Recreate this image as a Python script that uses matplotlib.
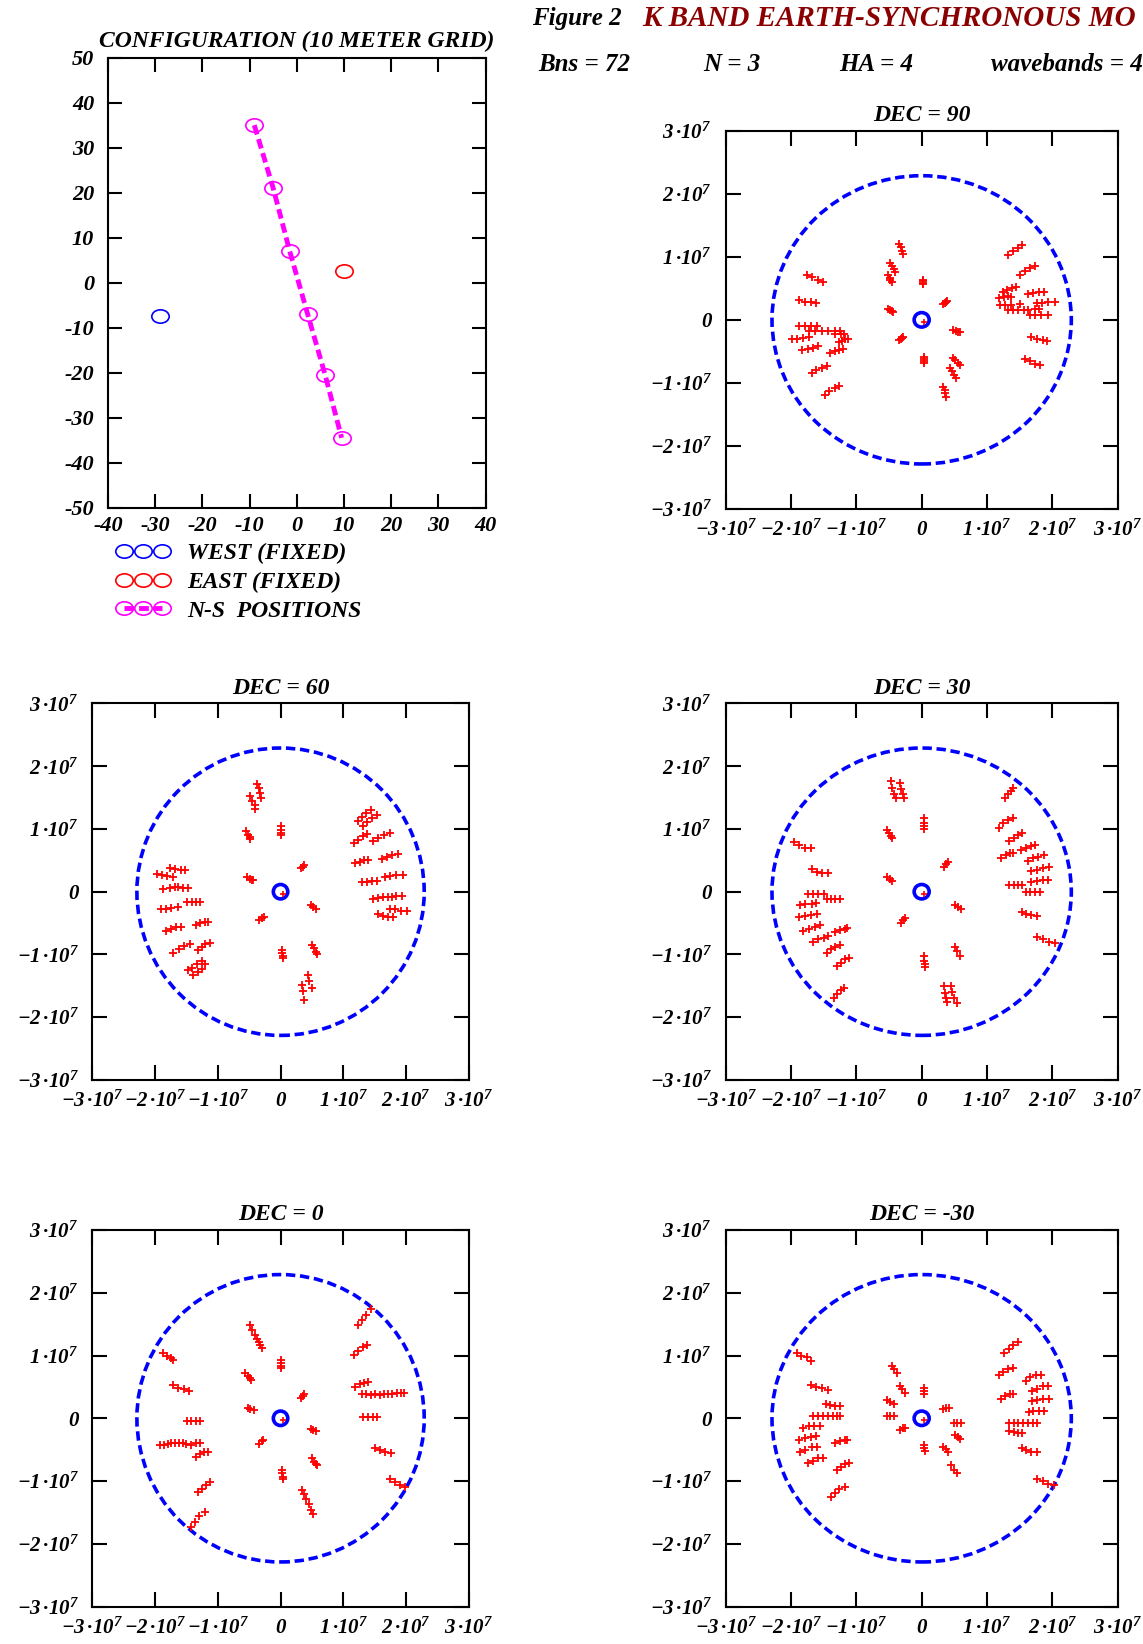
'''
K band earth-synchronous mode, figure 2
'''

import matplotlib
matplotlib.use('Agg')
import matplotlib.pyplot as plt
from matplotlib.patches import Circle
from matplotlib.lines import Line2D
from matplotlib.path import Path
from matplotlib.transforms import Affine2D

plt.rcParams['font.family'] = ['Liberation Serif', 'DejaVu Serif']
plt.rcParams['font.style'] = 'italic'
plt.rcParams['font.weight'] = 'bold'
plt.rcParams['axes.titleweight'] = 'bold'
plt.rcParams['mathtext.fontset'] = 'custom'
plt.rcParams['mathtext.rm'] = 'Liberation Serif:bold:italic'
plt.rcParams['mathtext.it'] = 'Liberation Serif:bold:italic'
plt.rcParams['mathtext.bf'] = 'Liberation Serif:bold:italic'
plt.rcParams['mathtext.default'] = 'bf'
plt.rcParams['axes.unicode_minus'] = False

# antenna positions (10 meter grid)
west_x = [-29]
west_y = [-7.5]
east_x = [10]
east_y = [2.5]
ns_x = [-9, -5, -1.5, 2.3, 6, 9.5]
ns_y = [35, 21, 7, -7, -20.5, -34.5]

config_xticks = [-40, -30, -20, -10, 0, 10, 20, 30, 40]
config_yticks = [-50, -40, -30, -20, -10, 0, 10, 20, 30, 40, 50]
legend_labels = ['WEST (FIXED)', 'EAST (FIXED)', 'N-S  POSITIONS']

header_title = 'K BAND EARTH-SYNCHRONOUS MO'
header_params = ['Bns = 72', 'N = 3', 'HA = 4', 'wavebands = 4']

# uv plane, ticks in units of 1e7
uv_ticks = [-3, -2, -1, 0, 1, 2, 3]
# radius of the dashed limit circle and of the centre ring, units of 1e6
limit_radius = 22.9
centre_radius = 1.15
centre_point = (0.4, -0.3)

# uv samples, units of 1e6 wavelengths
dec90_uv = [
    (-3.4, 12.1), (-3.2, 11.6), (-3.0, 11.0), (-2.8, 10.5),
    (-4.8, 9.0), (-4.6, 8.5), (-4.3, 8.0), (-4.1, 7.6),
    (-5.1, 7.1), (-4.9, 6.6), (-4.8, 6.3), (-4.6, 6.0),
    (0.2, 6.4), (0.2, 6.1), (0.2, 5.9), (0.2, 5.7),
    (-5.1, 1.8), (-4.8, 1.6), (-4.6, 1.4), (-4.4, 1.3),
    (3.3, 2.5), (3.5, 2.7), (3.7, 2.8), (3.9, 3.0),
    (4.8, -1.6), (5.2, -1.7), (5.5, -1.9), (5.9, -2.0),
    (-3.4, -3.2), (-3.2, -3.0), (-3.0, -2.9), (-2.8, -2.7),
    (0.35, -5.9), (0.35, -6.2), (0.4, -6.5), (0.4, -6.8),
    (4.8, -6.0), (5.1, -6.4), (5.5, -6.8), (5.8, -7.2),
    (4.4, -7.7), (4.7, -8.2), (5.0, -8.7), (5.2, -9.2),
    (3.3, -10.6), (3.5, -11.1), (3.6, -11.7), (3.8, -12.2),
    (-17.6, 7.2), (-16.8, 6.8), (-15.9, 6.4), (-15.1, 6.0),
    (-18.7, 3.1), (-17.8, 2.9), (-16.9, 2.8), (-16.1, 2.7),
    (-18.8, -0.9), (-17.9, -0.9), (-16.9, -0.9), (-16.0, -0.9),
    (-17.3, -1.8), (-16.3, -1.8), (-15.3, -1.7), (-14.3, -1.7),
    (-13.3, -1.7), (-12.5, -1.7),
    (-13.2, -2.3), (-12.4, -2.3), (-11.9, -2.2),
    (-19.8, -3.0), (-19.0, -3.0), (-18.2, -2.9), (-17.3, -2.7),
    (-12.7, -3.5), (-12.2, -3.3), (-11.7, -3.1), (-11.2, -3.0),
    (-18.3, -4.8), (-17.4, -4.6), (-16.6, -4.4), (-15.8, -4.2),
    (-14.0, -5.2), (-13.3, -5.0), (-12.6, -4.8), (-12.0, -4.6),
    (-16.8, -8.5), (-16.1, -8.0), (-15.3, -7.7), (-14.5, -7.4),
    (-14.8, -12.0), (-14.1, -11.3), (-13.3, -10.9), (-12.6, -10.5),
    (13.2, 10.3), (14.0, 10.9), (14.7, 11.4), (15.3, 11.9),
    (15.0, 7.2), (15.8, 7.8), (16.6, 8.2), (17.3, 8.5),
    (12.4, 4.5), (13.1, 4.8), (13.8, 5.0), (14.5, 5.2),
    (11.9, 3.4), (12.6, 3.6), (13.2, 3.8), (13.7, 3.7),
    (16.2, 4.1), (17.0, 4.3), (17.9, 4.4), (18.7, 4.5),
    (12.0, 2.3), (12.8, 2.3), (13.6, 2.4), (15.0, 2.5),
    (17.6, 2.6), (18.4, 2.7), (19.3, 2.8), (20.4, 2.9),
    (13.2, 1.5), (14.0, 1.5), (14.8, 1.6), (15.6, 1.6),
    (16.3, 1.6), (17.3, 1.7), (18.0, 1.8),
    (16.5, 0.8), (17.3, 0.8), (18.2, 0.7), (19.3, 0.7),
    (16.8, -2.8), (17.6, -3.0), (18.5, -3.2), (19.2, -3.4),
    (15.8, -6.2), (16.6, -6.6), (17.4, -7.0), (18.1, -7.2),
]

dec60_uv = [
    (-3.7, 17.1), (-3.4, 16.5), (-3.2, 15.7), (-3.1, 14.9),
    (-4.9, 15.2), (-4.5, 14.5), (-4.1, 13.8), (-4.0, 13.2),
    (-5.5, 9.6), (-5.2, 9.1), (-4.9, 8.7), (-4.8, 8.4),
    (0.0, 10.4), (0.0, 9.9), (0.1, 9.4), (0.1, 9.0),
    (-5.3, 2.4), (-4.9, 2.1), (-4.6, 1.9), (-4.4, 1.8),
    (3.2, 3.7), (3.5, 4.0), (3.8, 4.3),
    (4.8, -2.1), (5.2, -2.4), (5.7, -2.7),
    (-3.4, -4.5), (-3.0, -4.2), (-2.6, -4.0),
    (0.3, -9.3), (0.3, -9.8), (0.4, -10.2), (0.4, -10.6),
    (5.0, -8.5), (5.3, -9.0), (5.6, -9.6), (5.8, -10.0),
    (4.3, -13.2), (4.6, -14.2), (5.0, -15.4),
    (3.4, -14.9), (3.6, -15.9), (3.8, -17.3),
    (-17.6, 3.8), (-16.8, 3.6), (-15.9, 3.5), (-15.2, 3.4),
    (-19.7, 2.9), (-18.9, 2.7), (-18.1, 2.5), (-17.1, 2.4),
    (-18.7, 0.5), (-17.6, 0.6), (-16.9, 0.7), (-16.3, 0.7),
    (-15.6, 0.6), (-14.7, 0.6),
    (-14.9, -1.7), (-14.1, -1.6), (-13.4, -1.6), (-12.8, -1.6),
    (-19.1, -2.8), (-18.3, -2.7), (-17.4, -2.6), (-16.4, -2.5),
    (-13.5, -5.3), (-12.8, -5.0), (-12.1, -4.8), (-11.5, -4.8),
    (-18.3, -6.3), (-17.4, -5.9), (-16.6, -5.6), (-15.9, -5.6),
    (-13.2, -9.3), (-12.6, -8.8), (-12.0, -8.4), (-11.3, -8.1),
    (-17.1, -9.7), (-16.2, -9.2), (-15.4, -8.7), (-14.5, -8.4),
    (-14.8, -12.5), (-14.1, -12.1), (-13.3, -11.6), (-12.6, -11.0),
    (-13.9, -13.3), (-13.2, -12.8), (-12.6, -12.3), (-12.1, -11.6),
    (12.4, 11.2), (13.0, 11.9), (13.6, 12.5), (14.4, 13.0),
    (13.2, 10.5), (13.8, 11.1), (14.6, 11.8), (15.4, 12.3),
    (11.7, 7.8), (12.4, 8.3), (13.1, 8.9), (13.8, 9.2),
    (14.8, 8.1), (15.6, 8.6), (16.5, 9.0), (17.5, 9.3),
    (11.9, 4.5), (12.6, 4.8), (13.3, 5.0), (14.0, 5.1),
    (16.2, 5.2), (17.0, 5.6), (17.8, 5.9), (18.7, 6.0),
    (13.0, 1.5), (13.8, 1.6), (14.6, 1.7), (15.4, 1.7),
    (16.7, 2.4), (17.5, 2.5), (18.4, 2.6), (19.5, 2.7),
    (14.8, -1.1), (15.6, -1.0), (16.4, -0.9), (17.1, -0.8),
    (17.7, -0.8), (18.4, -0.7), (19.3, -0.7),
    (17.4, -2.7), (18.2, -2.8), (19.2, -3.0), (20.1, -3.1),
    (15.6, -3.6), (16.4, -3.8), (17.2, -4.0), (17.9, -4.1),
]

dec30_uv = [
    (-4.7, 17.6), (-4.5, 16.5), (-4.2, 15.5), (-4.0, 14.9),
    (-3.3, 17.4), (-3.1, 16.4), (-2.9, 15.5), (-2.7, 14.9),
    (0.3, 11.7), (0.3, 11.0), (0.3, 10.4), (0.3, 10.0),
    (-5.3, 9.9), (-5.0, 9.4), (-4.7, 8.8), (-4.5, 8.5),
    (3.4, 4.0), (3.7, 4.4), (4.0, 4.8),
    (-5.3, 2.4), (-4.9, 2.0), (-4.5, 1.7),
    (5.1, -2.1), (5.5, -2.5), (6.0, -2.8),
    (-3.2, -5.0), (-2.9, -4.5), (-2.6, -4.2),
    (0.4, -10.3), (0.4, -11.0), (0.5, -11.6), (0.5, -12.0),
    (5.1, -8.8), (5.4, -9.5), (5.8, -10.2),
    (3.4, -15.1), (3.6, -16.2), (3.8, -17.0), (3.9, -17.6),
    (4.5, -15.1), (4.7, -16.0), (5.0, -16.9), (5.4, -17.8),
    (-19.6, 8.0), (-18.7, 7.4), (-17.9, 7.0), (-17.0, 6.9),
    (-16.8, 3.6), (-16.0, 3.2), (-15.2, 3.0), (-14.4, 3.0),
    (-17.4, -0.3), (-16.6, -0.3), (-15.8, -0.3), (-15.0, -0.3),
    (-14.5, -1.2), (-13.8, -1.2), (-13.2, -1.2), (-12.5, -1.2),
    (-18.6, -2.1), (-17.9, -2.0), (-16.8, -1.9), (-16.1, -1.8),
    (-18.8, -4.1), (-17.9, -3.9), (-17.0, -3.7), (-16.0, -3.6),
    (-18.1, -6.3), (-17.3, -5.9), (-16.3, -5.6), (-15.6, -5.3),
    (-13.2, -6.4), (-12.5, -6.1), (-11.8, -5.9), (-11.4, -5.8),
    (-16.6, -8.0), (-15.8, -7.6), (-15.0, -7.3), (-14.4, -7.0),
    (-14.5, -9.7), (-13.8, -9.2), (-13.2, -8.8), (-12.5, -8.5),
    (-13.0, -11.9), (-12.4, -11.3), (-11.7, -10.8), (-11.1, -10.5),
    (-13.4, -16.9), (-12.9, -16.3), (-12.4, -15.7), (-11.9, -15.3),
    (12.7, 15.0), (13.2, 15.5), (13.7, 16.0), (14.0, 16.6),
    (11.8, 10.2), (12.5, 10.9), (13.2, 11.4), (13.9, 11.8),
    (13.4, 8.1), (14.1, 8.6), (14.8, 9.0), (15.4, 9.4),
    (12.2, 5.4), (12.9, 5.8), (13.5, 6.1), (14.0, 6.2),
    (15.2, 6.6), (15.9, 7.0), (16.7, 7.3), (17.4, 7.5),
    (16.3, 4.9), (17.0, 5.3), (17.8, 5.6), (18.7, 5.9),
    (16.8, 3.3), (17.6, 3.5), (18.6, 3.7), (19.5, 3.9),
    (16.8, 1.6), (17.6, 1.7), (18.5, 1.8), (19.3, 1.9),
    (13.4, 1.0), (14.1, 1.0), (14.8, 1.0), (15.4, 1.0),
    (15.9, 0.0), (16.6, 0.0), (17.4, 0.0), (18.1, 0.0),
    (15.3, -3.3), (16.0, -3.5), (16.8, -3.7), (17.7, -3.8),
    (17.7, -7.2), (18.5, -7.6), (19.5, -8.0), (20.4, -8.2),
]

dec0_uv = [
    (-4.9, 14.9), (-4.5, 14.1), (-4.1, 13.3), (-3.7, 12.7),
    (-3.4, 12.2), (-3.2, 11.7), (-2.9, 11.2),
    (0.0, 9.3), (0.0, 8.8), (0.1, 8.3), (0.1, 8.0),
    (-5.6, 7.2), (-5.2, 6.8), (-4.9, 6.4), (-4.7, 6.1),
    (-5.2, 1.7), (-4.8, 1.5), (-4.3, 1.3),
    (3.2, 3.2), (3.5, 3.5), (3.7, 3.8),
    (4.8, -1.7), (5.2, -1.9), (5.7, -2.0),
    (-3.4, -4.1), (-3.0, -3.7), (-2.8, -3.5),
    (0.3, -8.2), (0.3, -8.8), (0.4, -9.3), (0.4, -9.7),
    (5.0, -6.3), (5.3, -6.9), (5.6, -7.3), (5.8, -7.5),
    (3.4, -11.4), (3.8, -12.1), (4.1, -12.8), (4.5, -13.6),
    (4.9, -14.6), (5.2, -15.3),
    (-18.8, 10.4), (-18.1, 9.9), (-17.4, 9.6), (-17.2, 9.3),
    (-17.1, 5.3), (-16.3, 4.9), (-15.4, 4.6), (-14.6, 4.4),
    (-14.9, -0.4), (-14.2, -0.4), (-13.5, -0.4), (-12.8, -0.4),
    (-19.2, -4.3), (-18.6, -4.2), (-18.0, -4.1), (-17.4, -4.0),
    (-16.8, -4.0), (-16.2, -3.9), (-15.6, -4.0), (-15.0, -4.1),
    (-14.3, -4.2), (-13.5, -4.0), (-12.8, -3.9),
    (-13.5, -6.1), (-12.9, -5.7), (-12.2, -5.4), (-11.5, -5.3),
    (-13.2, -11.8), (-12.6, -11.2), (-11.9, -10.6), (-11.3, -10.2),
    (-14.2, -17.4), (-13.6, -16.5), (-13.0, -15.6), (-12.1, -15.0),
    (12.4, 14.8), (13.0, 15.7), (13.6, 16.5), (14.4, 17.4),
    (11.7, 10.1), (12.4, 10.8), (13.1, 11.3), (13.8, 11.6),
    (11.9, 5.0), (12.6, 5.4), (13.3, 5.7), (13.9, 5.8),
    (13.0, 3.8), (13.7, 3.8), (14.4, 3.7), (15.1, 3.8),
    (15.8, 3.7), (16.5, 3.8), (17.1, 3.9), (17.8, 3.9),
    (18.5, 4.0), (19.2, 4.1), (19.6, 4.1),
    (13.1, 0.2), (13.9, 0.2), (14.7, 0.2), (15.4, 0.2),
    (15.1, -4.7), (15.9, -5.0), (16.7, -5.3), (17.6, -5.6),
    (17.5, -9.6), (18.3, -10.2), (19.1, -10.6), (19.9, -10.9),
]

decm30_uv = [
    (-4.6, 8.4), (-4.3, 7.9), (-3.8, 7.2),
    (-3.3, 5.2), (-3.0, 4.7), (-2.6, 4.1),
    (0.3, 4.9), (0.3, 4.4), (0.4, 3.8),
    (-5.3, 2.9), (-4.9, 2.6), (-4.3, 2.2),
    (-5.3, 0.4), (-4.8, 0.4), (-4.2, 0.4),
    (3.3, 1.5), (3.8, 1.6), (4.2, 1.6),
    (4.9, -0.7), (5.4, -0.7), (6.0, -0.7),
    (-3.3, -1.9), (-2.9, -1.6), (-2.6, -1.6),
    (5.1, -2.6), (5.5, -3.0), (5.9, -3.3),
    (0.4, -4.3), (0.4, -4.8), (0.5, -5.2),
    (3.3, -4.5), (3.7, -4.9), (4.0, -5.3),
    (4.5, -7.5), (4.9, -8.2), (5.4, -8.8),
    (-19.0, 10.4), (-18.4, 10.0), (-17.6, 9.7), (-16.9, 9.1),
    (-17.0, 5.3), (-16.2, 5.0), (-15.3, 4.8), (-14.4, 4.5),
    (-14.7, 2.2), (-14.0, 2.1), (-13.3, 1.9), (-12.5, 1.9),
    (-16.7, 0.4), (-15.9, 0.4), (-15.1, 0.4), (-14.3, 0.4),
    (-13.6, 0.4), (-12.9, 0.4), (-12.5, 0.4),
    (-18.1, -1.5), (-17.3, -1.3), (-16.4, -1.2), (-15.6, -1.2),
    (-18.8, -3.5), (-17.9, -3.2), (-17.0, -3.0), (-16.1, -2.9),
    (-18.6, -5.3), (-17.8, -5.0), (-16.8, -4.6), (-16.0, -4.5),
    (-13.2, -4.0), (-12.5, -3.7), (-11.8, -3.4), (-11.4, -3.5),
    (-17.4, -7.2), (-16.6, -6.8), (-15.8, -6.4), (-15.1, -6.3),
    (-13.0, -8.2), (-12.4, -7.7), (-11.7, -7.3), (-11.1, -7.2),
    (-13.9, -12.6), (-13.3, -11.9), (-12.6, -11.2), (-11.8, -10.9),
    (12.6, 10.4), (13.3, 11.1), (14.0, 11.6), (14.7, 12.2),
    (11.8, 6.9), (12.5, 7.4), (13.2, 7.8), (13.9, 8.0),
    (12.1, 3.1), (12.8, 3.5), (13.5, 3.8), (14.0, 3.8),
    (15.9, 6.0), (16.6, 6.5), (17.5, 6.9), (18.2, 6.9),
    (16.9, 4.3), (17.6, 4.7), (18.6, 5.1), (19.4, 5.2),
    (16.9, 2.7), (17.7, 2.9), (18.6, 3.0), (19.5, 3.1),
    (16.4, 1.0), (17.1, 1.1), (17.9, 1.2), (18.7, 1.2),
    (13.4, -0.7), (14.1, -0.7), (14.8, -0.7), (15.5, -0.7),
    (16.2, -0.7), (17.0, -0.7), (17.6, -0.7),
    (13.4, -2.1), (14.1, -2.2), (14.8, -2.3), (15.4, -2.4),
    (15.3, -4.8), (16.0, -5.1), (16.8, -5.3), (17.7, -5.4),
    (17.7, -9.6), (18.5, -10.0), (19.4, -10.4), (20.3, -10.7),
]

# a slightly wide circle, like the original markers
ellipse = Path.unit_circle().transformed(Affine2D().scale(1.3, 1.0))
BI = dict(fontweight='bold', fontstyle='italic')


def style_axes(ax, length):
    ax.tick_params(direction='in', length=length, width=1.5, top=True,
                   right=True)
    ax.tick_params(axis='x', pad=8)
    ax.tick_params(axis='y', pad=10)
    for s in ax.spines.values():
        s.set_linewidth(1.5)


def uv_label(t):
    if t == 0:
        return '0'
    return r'$%d\,·10^{7}$' % t


def draw_uv(fig, rect, title, points):
    ax = fig.add_axes(rect)
    u = [p[0] * 1e6 for p in points]
    v = [p[1] * 1e6 for p in points]
    ax.add_patch(Circle((0, 0), limit_radius * 1e6, fill=False, color='blue',
                        linewidth=2.6, linestyle=(0, (2.6, 1.3))))
    ax.add_patch(Circle((0, 0), centre_radius * 1e6, fill=False, color='blue',
                        linewidth=2.6))
    ax.plot(u, v, '+', color='red', markersize=5.5, markeredgewidth=1.3)
    ax.plot([centre_point[0] * 1e6], [centre_point[1] * 1e6], '+', color='red',
            markersize=5, markeredgewidth=1.2)
    ticks = [t * 1e7 for t in uv_ticks]
    ax.set_xlim(-3e7, 3e7)
    ax.set_ylim(-3e7, 3e7)
    ax.set_xticks(ticks)
    ax.set_yticks(ticks)
    ax.set_xticklabels([uv_label(t) for t in uv_ticks], fontsize=15, **BI)
    ax.set_yticklabels([uv_label(t) for t in uv_ticks], fontsize=15, **BI)
    style_axes(ax, 11)
    ax.set_title(title, fontsize=17, pad=7, **BI)
    return ax


fig = plt.figure(figsize=(11.43, 16.44), dpi=100)

# header
fig.text(0.4655, 0.989, 'Figure 2', fontsize=18, va='center', **BI)
fig.text(0.5617, 0.989, header_title, fontsize=21,
         va='center', color='#8b0000', **BI)
for x, txt in zip([0.4707, 0.6150, 0.7340, 0.8670], header_params):
    fig.text(x, 0.9605, txt, fontsize=18, va='center', **BI)

# configuration
ax = fig.add_axes([0.0945, 0.6913, 0.3303, 0.2736])
ax.plot(west_x, west_y, linestyle='none', marker=ellipse, markersize=12.5,
        markerfacecolor='none', markeredgecolor='blue', markeredgewidth=1.2)
ax.plot(east_x, east_y, linestyle='none', marker=ellipse, markersize=12.5,
        markerfacecolor='none', markeredgecolor='red', markeredgewidth=1.2)
ax.plot(ns_x, ns_y, color='magenta', linestyle=(0, (2.0, 1.0)), linewidth=3.5,
        marker=ellipse, markersize=12.5, markerfacecolor='none',
        markeredgecolor='magenta', markeredgewidth=1.2)
ax.set_xlim(-40, 40)
ax.set_ylim(-50, 50)
ax.set_xticks(config_xticks)
ax.set_yticks(config_yticks)
ax.set_xticklabels([str(t) for t in config_xticks], fontsize=16, **BI)
ax.set_yticklabels([str(t) for t in config_yticks], fontsize=16, **BI)
style_axes(ax, 10)
ax.tick_params(axis='x', pad=6)
ax.set_title('CONFIGURATION (10 METER GRID)', fontsize=17, pad=8, **BI)

handles = [
    Line2D([], [], linestyle='none', marker=ellipse, markersize=12.5,
           markerfacecolor='none', markeredgecolor='blue', markeredgewidth=1.2),
    Line2D([], [], linestyle='none', marker=ellipse, markersize=12.5,
           markerfacecolor='none', markeredgecolor='red', markeredgewidth=1.2),
    Line2D([], [], color='magenta', linestyle=(0, (2.0, 1.0)), linewidth=3.5,
           marker=ellipse, markersize=12.5, markerfacecolor='none',
           markeredgecolor='magenta', markeredgewidth=1.2),
]
ax.legend(handles, legend_labels, loc='upper left',
          bbox_to_anchor=(0.0921, 0.677), bbox_transform=fig.transFigure,
          numpoints=3, handlelength=2.2, handletextpad=0.75, borderpad=0,
          labelspacing=0.3, frameon=False, fontsize=17)

draw_uv(fig, [0.6348, 0.6906, 0.3431, 0.2297], 'DEC = 90', dec90_uv)
draw_uv(fig, [0.0808, 0.3431, 0.3293, 0.2290], 'DEC = 60', dec60_uv)
draw_uv(fig, [0.6348, 0.3431, 0.3431, 0.2290], 'DEC = 30', dec30_uv)
draw_uv(fig, [0.0808, 0.0228, 0.3293, 0.2290], 'DEC = 0', dec0_uv)
draw_uv(fig, [0.6348, 0.0228, 0.3431, 0.2290], 'DEC = -30', decm30_uv)

fig.savefig('out.png', dpi=100)
